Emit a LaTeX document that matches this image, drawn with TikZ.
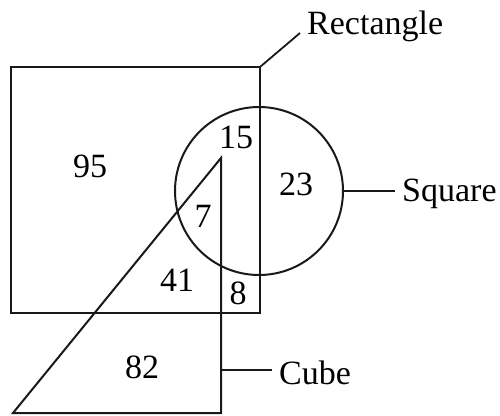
\documentclass[tikz,border=0pt]{standalone}
\usepackage{fontspec}
\setmainfont{Liberation Serif}
\usepackage{tikz}
\usetikzlibrary{positioning,calc}

\begin{document}
\begin{tikzpicture}[x=1pt, y=-1pt,
  shp/.style={line width=2pt, black!90},
  num/.style={font=\fontsize{34}{38}\selectfont, inner sep=0pt},
  lbl/.style={font=\fontsize{34}{38}\selectfont, inner sep=0pt, anchor=west},
  ln/.style={line width=1.8pt, black!90},
]
\useasboundingbox (0,0) rectangle (500,415);

% sets
\coordinate (rnw) at (11,67);
\coordinate (rse) at (260,313);
\coordinate (rne) at (260,67);
\node[circle, shp, draw, minimum size=168pt, inner sep=0pt] (sq) at (259,191) {};
\coordinate (ttop) at (221,158);
\coordinate (tbr)  at (221,413);
\coordinate (tbl)  at (13,413);

\draw[shp] (rnw) rectangle (rse);
\draw[shp] (tbl) -- (ttop) -- (tbr) -- cycle;

% region counts
\node[num] (n95) at (90,166)  {95};
\node[num] (n15) at (236,137) {15};
\node[num] (n23) at (296,184) {23};
\node[num] (n7)  at (203,216) {7};
\node[num] (n41) at (177,280) {41};
\node[num] (n8)  at (238,293) {8};
\node[num] (n82) at (142,367) {82};

% labels
\node[lbl] (lrect) at (307,26)  {Rectangle};
\node[lbl] (lsq)   at (402,194) {Square};
\node[lbl] (lcube) at (279,373) {Cube};
\coordinate (cj) at (221,370);

\draw[ln] (rne) -- ($(lrect.west)+(-7,7)$);
\draw[ln] (sq.east) -- ($(lsq.west)+(-7,-3)$);
\draw[ln] (cj) -- ($(lcube.west)+(-7,-3)$);
\end{tikzpicture}
\end{document}
